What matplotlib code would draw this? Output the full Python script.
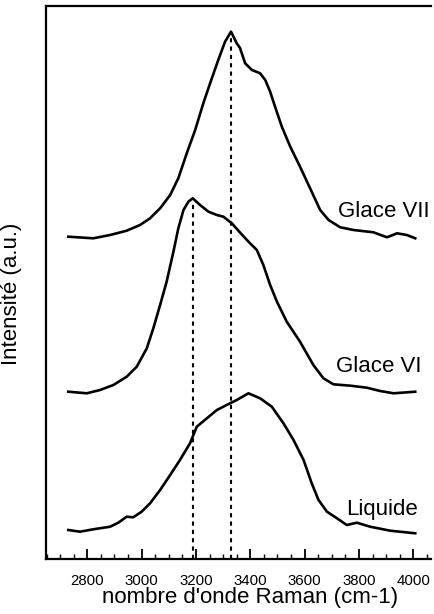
import matplotlib
matplotlib.use("Agg")
import matplotlib.pyplot as plt
from matplotlib.ticker import MultipleLocator

plt.rcParams['font.family'] = ['Liberation Sans', 'DejaVu Sans']

# Glace VII
wn_vii = [2730, 2822, 2884, 2945, 2994, 3031, 3068, 3105, 3135, 3166, 3197, 3227,
          3252, 3282, 3307, 3329, 3350, 3362, 3381, 3406, 3436, 3455, 3473, 3491,
          3516, 3547, 3583, 3620, 3657, 3688, 3731, 3780, 3853, 3903, 3940, 3976, 4007]
int_vii = [322.3, 320.7, 324, 328.3, 334, 340.7, 350.7, 364, 380.7, 405.7, 429, 455.7,
           475.7, 499, 517.3, 527.3, 515.7, 511, 495.7, 489, 485.7, 479, 467.3, 452.3,
           432.3, 412.3, 392.3, 370.7, 349, 339, 331.7, 329, 326.7, 321.7, 325.7, 324, 320.7]

# Glace VI
wn_vi = [2730, 2798, 2847, 2896, 2945, 2982, 3019, 3043, 3068, 3092, 3117, 3135,
         3154, 3172, 3188, 3215, 3246, 3277, 3301, 3332, 3362, 3396, 3424, 3448,
         3473, 3498, 3534, 3583, 3632, 3669, 3706, 3768, 3829, 3878, 3927, 4007]
int_vi = [167.3, 165.7, 169, 174, 182.3, 192.3, 210.7, 230.7, 254, 277.3, 307.3, 330.7,
          349, 357.3, 360.7, 354, 347.3, 344, 342.3, 335.7, 326.5, 316.5, 309, 294,
          274, 257.3, 237.3, 217.3, 194, 180.7, 174.7, 173.3, 171.3, 168, 165.7, 167.3]

# Liquide
wn_liq = [2730, 2773, 2822, 2884, 2914, 2945, 2969, 3000, 3031, 3068, 3105, 3141,
          3178, 3203, 3240, 3277, 3313, 3350, 3393, 3436, 3479, 3522, 3559, 3596,
          3626, 3651, 3682, 3719, 3755, 3792, 3841, 3915, 4007]
int_liq = [29, 27.3, 29.7, 32.3, 36.3, 42.3, 41.7, 47.3, 55.7, 69, 84, 99,
           115.7, 132.3, 140.7, 149, 154, 159, 165.7, 160.7, 152.3, 135.7, 119, 99,
           75.7, 59, 47.3, 40.7, 34, 36.3, 32.3, 28.3, 25.7]

labels = ["Glace VII", "Glace VI", "Liquide"]
label_x = [3721, 3716, 3754]
label_y = [342, 187, 44]

peak_x = [3190, 3329]
peak_top = [356, 521]

fig = plt.figure(figsize=(4.34, 6.14), dpi=100)
ax = fig.add_axes([46/434, 55/614, 385/434, 553/614])

for w, v in [(wn_vii, int_vii), (wn_vi, int_vi), (wn_liq, int_liq)]:
    ax.plot(w, v, color='black', lw=1.9, solid_joinstyle='round')

for px, top in zip(peak_x, peak_top):
    ax.plot([px, px], [0, top], color='black', lw=1.5, linestyle=(0, (2, 2)))

for t, x, y in zip(labels, label_x, label_y):
    ax.text(x, y, t, fontsize=16, ha='left', va='baseline')

ax.set_xlim(2648, 4065)
ax.set_ylim(0, 553)
ax.xaxis.set_major_locator(MultipleLocator(200))
ax.xaxis.set_minor_locator(MultipleLocator(50))
ax.set_xticks([2800, 3000, 3200, 3400, 3600, 3800, 4000])
ax.set_yticks([])
ax.tick_params(axis='x', which='major', direction='in', length=7.5, width=1.3,
               labelsize=10.8, pad=10.5)
ax.tick_params(axis='x', which='minor', direction='in', length=3.8, width=1.0)
ax.tick_params(axis='x', top=False, which='both')
for s in ['left', 'bottom', 'top']:
    ax.spines[s].set_linewidth(1.6)
ax.spines['right'].set_visible(False)

fig.text(250/434, 1 - 598/614, "nombre d'onde Raman (cm-1)", fontsize=16,
         ha='center', va='center')
fig.text(12/434, 1 - 294/614, "Intensité (a.u.)", fontsize=16, rotation=90,
         ha='center', va='center')

fig.savefig("out.png", dpi=100)
